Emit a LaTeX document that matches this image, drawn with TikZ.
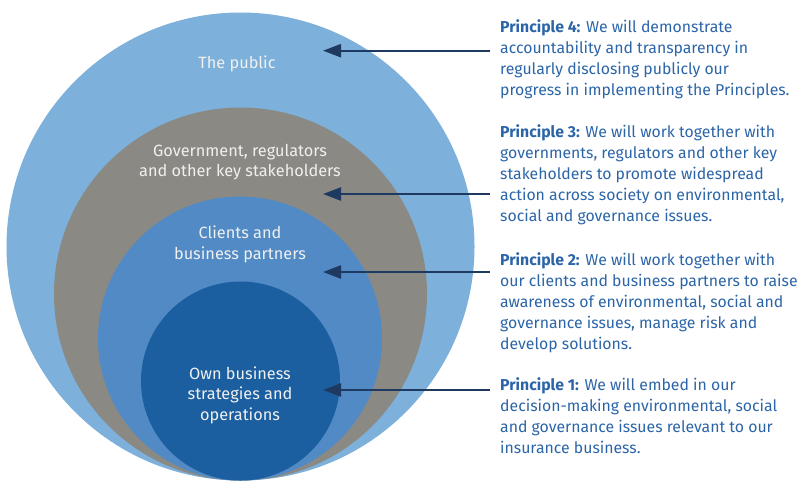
\documentclass[tikz,border=0pt]{standalone}
\usepackage{fontspec}
\setmainfont{Fira Sans}
\usetikzlibrary{arrows.meta}

\definecolor{publicblue}{HTML}{7DB1DB}
\definecolor{govgray}{HTML}{8B8984}
\definecolor{clientblue}{HTML}{518AC4}
\definecolor{ownblue}{HTML}{1C5FA0}
\definecolor{arrownavy}{HTML}{1F3A60}
\definecolor{textblue}{HTML}{2B65A8}

\tikzset{
  ring/.style={circle, inner sep=0pt, draw=none},
  ringtext/.style={align=center, text=white!94!black, font=\fontsize{16.3}{20.5}\selectfont},
  principle/.style={align=left, anchor=north west, inner sep=0pt,
    text=textblue, font=\fontsize{15.8}{21}\selectfont},
  pointer/.style={arrownavy, line width=2.4pt, -{Triangle[length=18pt,width=13pt]}}
}

\begin{document}
\begin{tikzpicture}[x=1pt,y=-1pt]
\useasboundingbox (0,0) rectangle (802,480);

% Circles
\node[ring, fill=publicblue, minimum size=468pt] (public) at (240.5,246.5) {};
\node[ring, fill=govgray, minimum size=373pt] (gov) at (240.5,294) {};
\node[ring, fill=clientblue, minimum size=284pt] (clients) at (240,338.5) {};
\node[ring, fill=ownblue, minimum size=199pt] (own) at (240.5,381) {};

% Circle labels
\node[ringtext] (publicTxt) at (237,64) {The public};
\node[ringtext] (govTxt) at (240,162) {Government, regulators\\and other key stakeholders};
\node[ringtext] (clientsTxt) at (240,244.5) {Clients and\\business partners};
\node[ringtext] (ownTxt) at (240,395) {Own business\\strategies and\\operations};

% Principles
\node[principle] (p4) at (500,19.5) {\textbf{Principle 4:} We will demonstrate\\
  accountability and transparency in\\regularly disclosing publicly our\\
  progress in implementing the Principles.};
\node[principle] (p3) at (500,124.5) {\textbf{Principle 3:} We will work together with\\
  governments, regulators and other key\\stakeholders to promote widespread\\
  action across society on environmental,\\social and governance issues.};
\node[principle] (p2) at (500,252.5) {\textbf{Principle 2:} We will work together with\\
  our clients and business partners to raise\\awareness of environmental, social and\\
  governance issues, manage risk and\\develop solutions.};
\node[principle] (p1) at (500,377.5) {\textbf{Principle 1:} We will embed in our\\
  decision-making environmental, social\\and governance issues relevant to our\\
  insurance business.};

% Arrows
\coordinate (t4) at (323,50.7);
\coordinate (t3) at (323,194);
\coordinate (t2) at (323,272);
\coordinate (t1) at (323,390);
\foreach \p in {1,2,3,4}
  \draw[pointer] ([xshift=-10pt]p\p.west |- t\p) -- (t\p);

\end{tikzpicture}
\end{document}
